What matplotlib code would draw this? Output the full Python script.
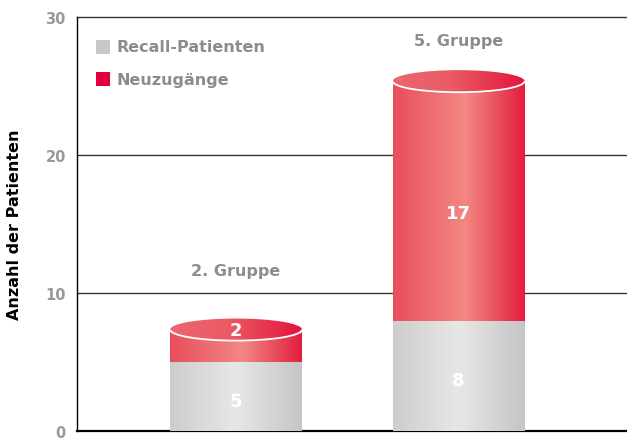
import numpy as np
import matplotlib.pyplot as plt
from matplotlib.colors import LinearSegmentedColormap
from matplotlib.patches import Ellipse, Arc, Rectangle

plt.rcParams['font.family'] = ['DejaVu Sans']
plt.rcParams['font.weight'] = 'bold'

# data
groups = ["2. Gruppe", "5. Gruppe"]
recall = [5, 8]
neu = [2, 17]
series = ["Recall-Patienten", "Neuzugänge"]
yticks = [0, 10, 20, 30]

# layout
label_y = [11.6, 28.3]

# colours
gray_side = LinearSegmentedColormap.from_list("gs", ["#cdcdcd", "#e7e7e7", "#c5c5c5"])
red_side = LinearSegmentedColormap.from_list("rs", [(0, "#e84e5a"), (0.55, "#f28883"), (1, "#e31d3e")])
red_top = LinearSegmentedColormap.from_list("rt", [(0, "#ec6670"), (0.45, "#ea5a64"), (1, "#e3143c")])
legend_cols = ["#c8c8c8", "#e4003a"]
text_gray = "#8c8c8c"

fig = plt.figure(figsize=(6.27, 4.39), dpi=100)
ax = fig.add_axes([77 / 627, 1 - 432 / 439, 550 / 627, 414 / 439])

grad = np.linspace(0, 1, 256).reshape(1, -1)
width = 0.593
ell_h = 1.6
top_off = 0.35


def side(x0, x1, y0, y1, cmap):
    ax.imshow(grad, extent=(x0, x1, y0, y1), cmap=cmap, aspect='auto',
              interpolation='bilinear', zorder=3)


for i, (r, n) in enumerate(zip(recall, neu)):
    x0, x1 = i - width / 2, i + width / 2
    total = r + n
    ctop = total + top_off
    side(x0, x1, 0, r, gray_side)
    side(x0, x1, r, ctop, red_side)
    e = Ellipse((i, ctop), width, ell_h, transform=ax.transData, facecolor='none', edgecolor='none')
    ax.add_patch(e)
    im = ax.imshow(grad, extent=(x0, x1, ctop - ell_h / 2, ctop + ell_h / 2), cmap=red_top,
                   aspect='auto', interpolation='bilinear', zorder=4)
    im.set_clip_path(e)
    ax.add_patch(Arc((i, ctop), width, ell_h, theta1=180, theta2=360,
                     color='white', lw=1.3, zorder=5))
    # value labels
    ax.text(i, r / 2 - 0.3, str(r), color='white', fontsize=13, fontweight='bold',
            ha='center', va='center', zorder=6)
    ny = ctop if n < 4 else r + n / 2 - 0.7
    ax.text(i, ny, str(n), color='white', fontsize=13, fontweight='bold',
            ha='center', va='center', zorder=6)
    ax.text(i, label_y[i], groups[i], color=text_gray, fontsize=11.5, fontweight='bold',
            ha='center', va='center', zorder=6)

ax.set_xlim(-0.715, 1.757)
ax.set_ylim(0, 30)

for y in yticks[1:]:
    ax.axhline(y, color='#333333', lw=1, zorder=1, clip_on=False)

for s in ['top', 'right']:
    ax.spines[s].set_visible(False)
ax.spines['left'].set_color('black')
ax.spines['left'].set_linewidth(1)
ax.spines['bottom'].set_color('black')
ax.spines['bottom'].set_linewidth(1.6)

ax.set_xticks([])
ax.set_yticks(yticks)
ax.set_yticklabels([str(t) for t in yticks], color='#999999', fontsize=10.5, fontweight='bold')
ax.tick_params(axis='y', length=0, pad=8)
ax.set_ylabel("Anzahl der Patienten", fontsize=11.5, fontweight='bold', color='black', labelpad=17)

# legend
for k, (name, col) in enumerate(zip(series, legend_cols)):
    ly = 1 - 48 / 439 - k * 0.073
    fig.patches.append(Rectangle((96 / 627, ly - 0.016), 14 / 627, 14 / 439, transform=fig.transFigure,
                                 facecolor=col, edgecolor='none'))
    fig.text(116 / 627, ly, name, color=text_gray, fontsize=11.5, fontweight='bold', va='center')

fig.savefig("out.png", dpi=100)
